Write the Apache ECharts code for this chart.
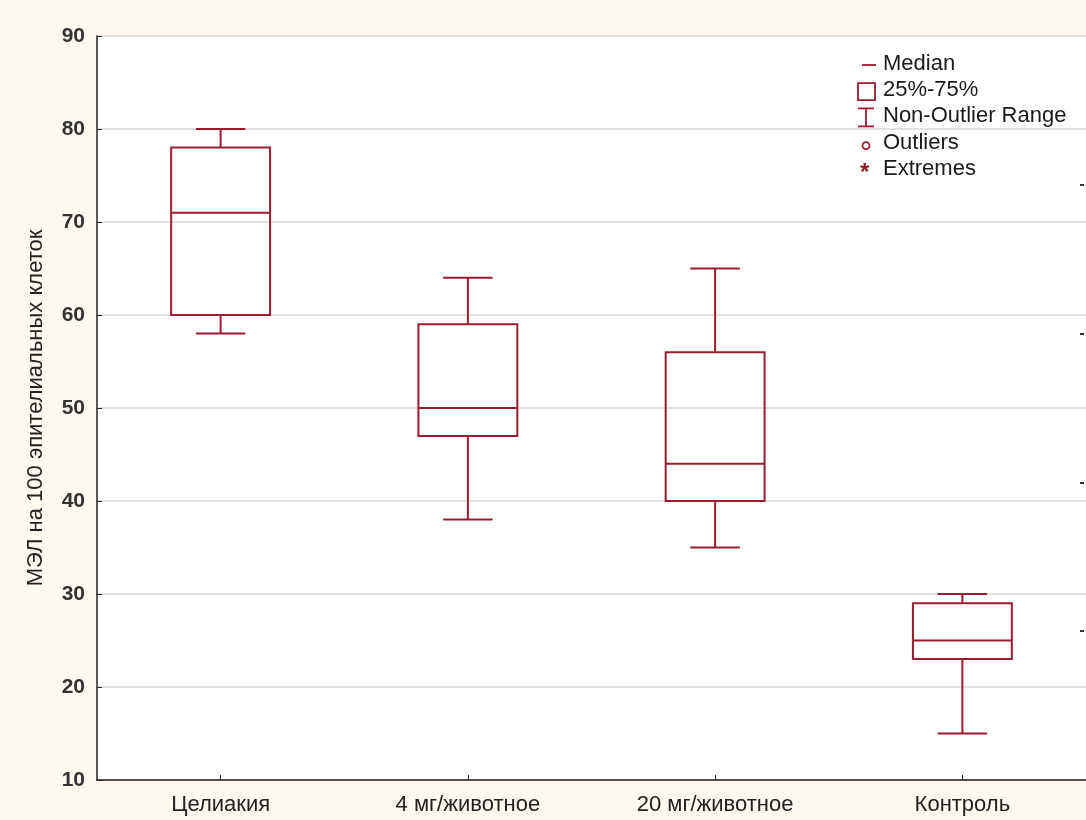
<!DOCTYPE html>
<html><head><meta charset="utf-8">
<script src="https://cdn.jsdelivr.net/npm/echarts@6/dist/echarts.min.js"></script>
<style>html,body{margin:0;padding:0;background:#fdf9f1}#c{width:1086px;height:820px}</style>
</head><body><div id="c"></div>
<script>
const categories = ['Целиакия', '4 мг/животное', '20 мг/животное', 'Контроль'];
const mins    = [58, 38, 35, 15];
const q1s     = [60, 47, 40, 23];
const medians = [71, 50, 44, 25];
const q3s     = [78, 59, 56, 29];
const maxs    = [80, 64, 65, 30];
const yTicks  = [10, 20, 30, 40, 50, 60, 70, 80, 90];
const legendItems = ['Median', '25%-75%', 'Non-Outlier Range', 'Outliers', 'Extremes'];
const rightTicks = [26, 42, 58, 74];

const RED = '#9b1c2c';
const FONT = '"Liberation Sans", Arial';
const data = categories.map((c, i) => [i, mins[i], q1s[i], medians[i], q3s[i], maxs[i]]);

const chart = echarts.init(document.getElementById('c'));
const lx = 862, ly = 65, ls = 26.2;
const legendGraphics = [];
legendItems.forEach((t, i) => {
  legendGraphics.push({type: 'text', left: lx + 21, top: ly + i * ls - 12,
    style: {text: t, font: '22px "Liberation Sans", Arial', fill: '#1a1a1a'}});
});
// icons
legendGraphics.push({type: 'line', shape: {x1: lx, y1: ly, x2: lx + 14, y2: ly}, style: {stroke: RED, lineWidth: 1.8}});
legendGraphics.push({type: 'rect', shape: {x: lx - 4, y: ly + ls - 8, width: 17, height: 17}, style: {stroke: RED, fill: 'none', lineWidth: 1.8}});
legendGraphics.push({type: 'line', shape: {x1: lx - 4, y1: ly + 2 * ls - 9, x2: lx + 12, y2: ly + 2 * ls - 9}, style: {stroke: RED, lineWidth: 1.8}});
legendGraphics.push({type: 'line', shape: {x1: lx + 4, y1: ly + 2 * ls - 9, x2: lx + 4, y2: ly + 2 * ls + 9}, style: {stroke: RED, lineWidth: 1.8}});
legendGraphics.push({type: 'line', shape: {x1: lx - 4, y1: ly + 2 * ls + 9, x2: lx + 12, y2: ly + 2 * ls + 9}, style: {stroke: RED, lineWidth: 1.8}});
legendGraphics.push({type: 'circle', shape: {cx: lx + 4, cy: ly + 3 * ls + 2, r: 3.5}, style: {stroke: RED, fill: 'none', lineWidth: 1.8}});
legendGraphics.push({type: 'text', left: lx - 2, top: ly + 4 * ls - 8, style: {text: '*', font: 'bold 24px "Liberation Sans", Arial', fill: RED}});

chart.setOption({
  backgroundColor: '#fdf9f1',
  animation: false,
  grid: {left: 97, right: -3, top: 36, bottom: 40, show: true, backgroundColor: '#ffffff', borderWidth: 0},
  xAxis: {
    type: 'category', data: categories,
    axisLine: {show: true, lineStyle: {color: '#222', width: 1.5}},
    axisTick: {show: true, inside: true, alignWithLabel: true, length: 5, lineStyle: {color: '#222'}},
    axisLabel: {fontSize: 22, color: '#222', fontFamily: FONT, margin: 14},
    splitLine: {show: false}
  },
  yAxis: [{
    type: 'value', min: 10, max: 90, interval: 10,
    name: 'МЭЛ на 100 эпителиальных клеток', nameLocation: 'middle', nameGap: 50, nameRotate: 90,
    nameTextStyle: {fontSize: 22, color: '#222', fontFamily: FONT},
    axisLine: {show: true, lineStyle: {color: '#222', width: 1.5}},
    axisTick: {show: true, inside: true, length: 5, lineStyle: {color: '#222'}},
    axisLabel: {fontSize: 21, color: '#333', fontWeight: 'bold', fontFamily: FONT, margin: 12,
      formatter: v => yTicks.includes(v) ? String(v) : ''},
    splitLine: {show: true, lineStyle: {color: '#d9d9d9', width: 1.5}}
  }, {
    type: 'value', min: 10, max: 90, position: 'right', offset: -2,
    axisLine: {show: false},
    axisTick: {show: true, inside: true, length: 4, customValues: rightTicks, lineStyle: {color: '#333', width: 2}},
    axisLabel: {show: false},
    splitLine: {show: false}
  }],
  graphic: legendGraphics,
  series: [{
    type: 'custom',
    data: data,
    encode: {x: 0, y: [1, 2, 3, 4, 5]},
    renderItem: function (params, api) {
      const i = api.value(0);
      const band = api.size([1, 0])[0];
      const bw = band * 0.4, cw = band * 0.2;
      const cx = api.coord([i, 0])[0];
      const y = k => api.coord([i, api.value(k)])[1];
      const yMin = y(1), yQ1 = y(2), yMed = y(3), yQ3 = y(4), yMax = y(5);
      const st = {stroke: RED, lineWidth: 2, fill: 'none'};
      return {type: 'group', children: [
        {type: 'rect', shape: {x: cx - bw / 2, y: yQ3, width: bw, height: yQ1 - yQ3}, style: st},
        {type: 'line', shape: {x1: cx - bw / 2, y1: yMed, x2: cx + bw / 2, y2: yMed}, style: st},
        {type: 'line', shape: {x1: cx, y1: yQ3, x2: cx, y2: yMax}, style: st},
        {type: 'line', shape: {x1: cx, y1: yQ1, x2: cx, y2: yMin}, style: st},
        {type: 'line', shape: {x1: cx - cw / 2, y1: yMax, x2: cx + cw / 2, y2: yMax}, style: st},
        {type: 'line', shape: {x1: cx - cw / 2, y1: yMin, x2: cx + cw / 2, y2: yMin}, style: st}
      ]};
    }
  }]
});
</script></body></html>
